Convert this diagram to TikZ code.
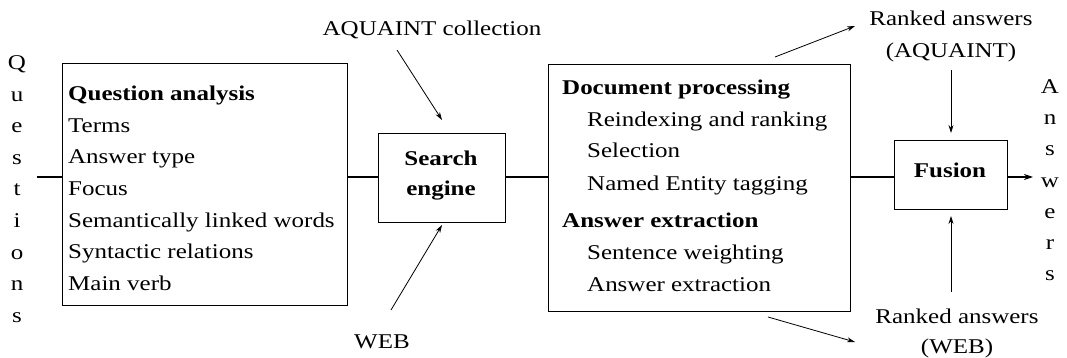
\documentclass[tikz,border=0pt]{standalone}
\usepackage{fontspec}
\setmainfont[FakeStretch=1.19]{Liberation Serif}
\usetikzlibrary{arrows.meta}
\begin{document}
\begin{tikzpicture}[x=1pt,y=-1pt,
  txt/.style={inner sep=0pt,anchor=base west,font=\fontsize{21}{25}\selectfont},
  ctxt/.style={inner sep=0pt,anchor=base,font=\fontsize{21}{25}\selectfont},
  btxt/.style={txt,font=\fontsize{21}{25}\selectfont\bfseries},
  box/.style={draw,line width=0.9pt,inner sep=0pt,anchor=north west},
  flow/.style={line width=1.5pt},
  arr/.style={line width=0.8pt,-{Stealth[length=8pt,width=5pt]}}]
\useasboundingbox (0,0) rectangle (1067,358);
% vertical labels
\foreach \c [count=\i] in {Q,u,e,s,t,i,o,n,s}
  \node[ctxt] (q\i) at (17,{70+31.5*(\i-1)}) {\c};
\foreach \c [count=\i] in {A,n,s,w,e,r,s}
  \node[ctxt] (a\i) at (1050,{94+31*(\i-1)}) {\c};
% boxes
\node[box,minimum width=285pt,minimum height=242pt] (qa) at (62,63) {};
\node[box,minimum width=127pt,minimum height=89pt] (se) at (378,133) {};
\node[box,minimum width=302pt,minimum height=247pt] (dp) at (548,64) {};
\node[box,minimum width=113pt,minimum height=69pt] (fu) at (894,140) {};
% question analysis text
\node[btxt] (qa0) at (68,101) {Question analysis};
\foreach \t [count=\i] in {Terms,Answer type,Focus,Semantically linked words,Syntactic relations,Main verb}
  \node[txt] (qa\i) at (68,{101+31.5*\i}) {\t};
% search engine
\node[ctxt,font=\fontsize{21}{25}\selectfont\bfseries] (se1) at (441,165) {Search};
\node[ctxt,font=\fontsize{21}{25}\selectfont\bfseries] (se2) at (441,195) {engine};
% document processing
\node[btxt] (dp0) at (562,95) {Document processing};
\node[txt] (dp1) at (587,127) {Reindexing and ranking};
\node[txt] (dp2) at (587,158) {Selection};
\node[txt] (dp3) at (587,190) {Named Entity tagging};
\node[btxt] (dp4) at (562,227) {Answer extraction};
\node[txt] (dp5) at (587,259) {Sentence weighting};
\node[txt] (dp6) at (587,291) {Answer extraction};
% fusion
\node[ctxt,font=\fontsize{21}{25}\selectfont\bfseries] (fu1) at (950,178) {Fusion};
% external labels
\node[ctxt] (aq) at (432,36) {AQUAINT collection};
\node[ctxt] (web) at (382,348) {WEB};
\node[ctxt] (ra1) at (951,26) {Ranked answers};
\node[ctxt] (ra2) at (951,58) {(AQUAINT)};
\node[ctxt] (rw1) at (957,323) {Ranked answers};
\node[ctxt] (rw2) at (957,353) {(WEB)};
% flow lines
\coordinate (qin) at (37,177);
\coordinate (aout) at (1033,177);
\draw[flow] (qin) -- (qa.west |- qin);
\draw[flow] (qa.east |- qin) -- (se.west |- qin);
\draw[flow] (se.east |- qin) -- (dp.west |- qin);
\draw[flow] (dp.east |- qin) -- (fu.west |- qin);
\draw[line width=1.5pt,-{Stealth[length=9pt,width=6pt]}] (fu.east |- qin) -- (aout);
% input arrows
\coordinate (aqs) at (397,50);
\coordinate (aqe) at (442,120);
\coordinate (wbs) at (391,310);
\coordinate (wbe) at (442,225);
\draw[arr] (aqs) -- (aqe);
\draw[arr] (wbs) -- (wbe);
% output arrows
\coordinate (dps) at (775,57);
\coordinate (dpe) at (855,26);
\coordinate (dws) at (768,317);
\coordinate (dwe) at (855,342);
\draw[arr] (dps) -- (dpe);
\draw[arr] (dws) -- (dwe);
\coordinate (ras) at (951,70);
\coordinate (rae) at (951,133);
\coordinate (rws) at (951,292);
\coordinate (rwe) at (951,216);
\draw[arr] (ras) -- (rae);
\draw[arr] (rws) -- (rwe);
\end{tikzpicture}
\end{document}
